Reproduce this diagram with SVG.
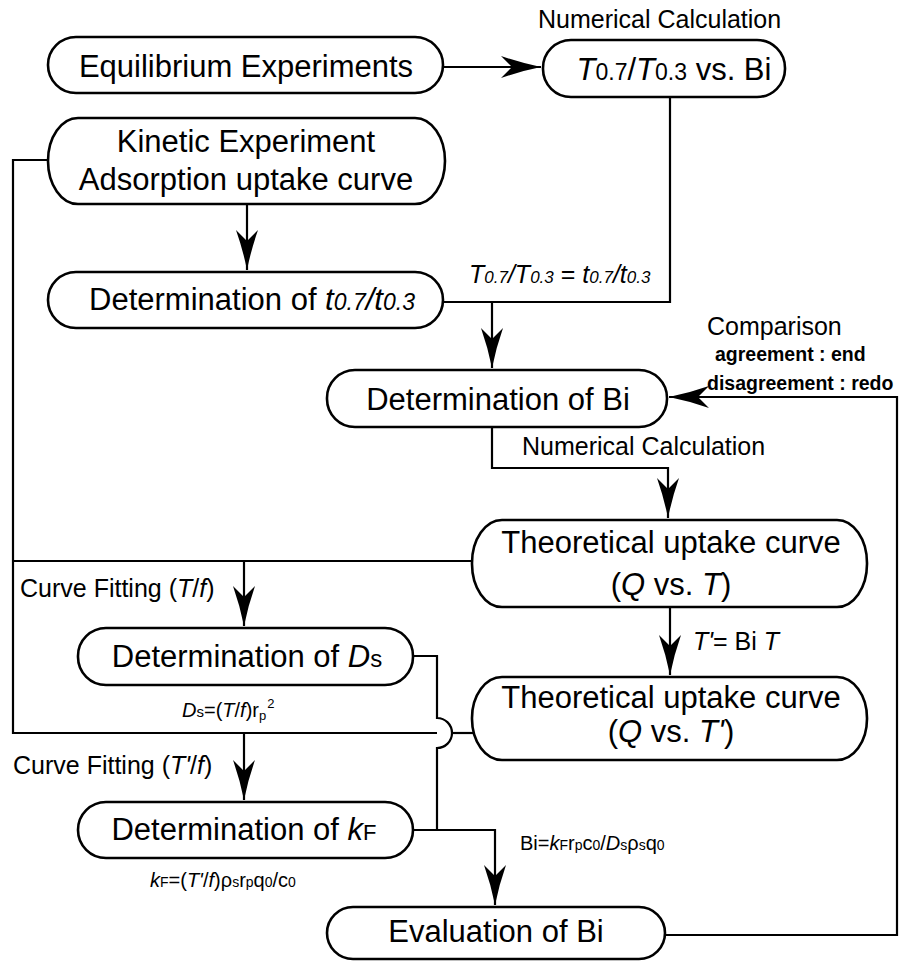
<svg xmlns="http://www.w3.org/2000/svg" width="909" height="962" viewBox="0 0 909 962">
<style>
  .box{fill:#fff;stroke:#000;stroke-width:2.6}
  .ln{fill:none;stroke:#000;stroke-width:2.2}
  .t{font-family:"Liberation Sans",Arial,sans-serif;font-size:31px;fill:#000;text-anchor:middle}
  .lb{font-family:"Liberation Sans",Arial,sans-serif;font-size:25px;fill:#000}
  .sm{font-family:"Liberation Sans",Arial,sans-serif;font-size:19.5px;font-weight:bold;fill:#000}
  .f{font-family:"Liberation Sans",Arial,sans-serif;font-size:20px;fill:#000}
  .i{font-style:italic}
</style>
<defs>
  <marker id="ah" markerUnits="userSpaceOnUse" viewBox="-42 -13 44 26" refX="0" refY="0" markerWidth="44" markerHeight="26" orient="auto">
    <path d="M0,0 Q-20,-4 -40,-11 L-29,0 L-40,11 Q-20,4 0,0 Z" fill="#000"/>
  </marker>
</defs>

<g id="connectors">
  <path class="ln" d="M443,67 L541,67" marker-end="url(#ah)"/>
  <path class="ln" d="M247,204 L247,270" marker-end="url(#ah)"/>
  <path class="ln" d="M670,97 L670,302 L443,302"/>
  <path class="ln" d="M492,302 L492,368" marker-end="url(#ah)"/>
  <path class="ln" d="M492,427 L492,468 L668,468 L668,518" marker-end="url(#ah)"/>
  <path class="ln" d="M670,607 L670,675" marker-end="url(#ah)"/>
  <path class="ln" d="M48,160 L13,160 L13,733 L437,733"/>
  <path class="ln" d="M452,733 L473,733"/>
  <path class="ln" d="M13,561 L473,561"/>
  <path class="ln" d="M244,561 L244,626" marker-end="url(#ah)"/>
  <path class="ln" d="M244,733 L244,800" marker-end="url(#ah)"/>
  <path class="ln" d="M413,656 L437,656 L437,718 A15,15 0 0 1 437,748 L437,830"/>
  <path class="ln" d="M413,830 L495,830 L495,905" marker-end="url(#ah)"/>
  <path class="ln" d="M665,935 L897,935 L897,397 L669,397" marker-end="url(#ah)"/>
</g>

<g id="n-equilibrium">
  <rect class="box" x="48" y="37" width="395" height="56" rx="28" ry="28"/>
  <text class="t" x="246" y="77">Equilibrium Experiments</text>
</g>
<g id="n-ratio-bi">
  <rect class="box" x="543" y="40" width="242" height="57" rx="28" ry="28"/>
  <text class="t" x="674" y="80"><tspan class="i">T</tspan><tspan font-size="23">0.7</tspan>/<tspan class="i">T</tspan><tspan font-size="23">0.3</tspan> vs. Bi</text>
</g>
<g id="n-kinetic">
  <rect class="box" x="48" y="118" width="397" height="86" rx="30" ry="43"/>
  <text class="t" x="246" y="152">Kinetic Experiment</text>
  <text class="t" x="246" y="190">Adsorption uptake curve</text>
</g>
<g id="n-det-t">
  <rect class="box" x="48" y="272" width="395" height="56" rx="28" ry="28"/>
  <text class="t" x="252" y="310">Determination of <tspan class="i">t</tspan><tspan font-size="23" class="i">0.7</tspan><tspan class="i">/t</tspan><tspan font-size="23" class="i">0.3</tspan></text>
</g>
<g id="n-det-bi">
  <rect class="box" x="327" y="370" width="340" height="57" rx="28" ry="28"/>
  <text class="t" x="498" y="410">Determination of Bi</text>
</g>
<g id="n-theo1">
  <rect class="box" x="472" y="520" width="395" height="87" rx="30" ry="43"/>
  <text class="t" x="671" y="553">Theoretical uptake curve</text>
  <text class="t" x="671" y="595" font-size="26">(<tspan class="i">Q</tspan> vs. <tspan class="i">T</tspan>)</text>
</g>
<g id="n-theo2">
  <rect class="box" x="472" y="677" width="395" height="83" rx="30" ry="41"/>
  <text class="t" x="671" y="708">Theoretical uptake curve</text>
  <text class="t" x="671" y="742" font-size="26">(<tspan class="i">Q</tspan> vs. <tspan class="i">T'</tspan>)</text>
</g>
<g id="n-det-ds">
  <rect class="box" x="78" y="628" width="335" height="57" rx="28" ry="28"/>
  <text class="t" x="247" y="667">Determination of <tspan class="i">D</tspan><tspan font-size="24">s</tspan></text>
</g>
<g id="n-det-kf">
  <rect class="box" x="78" y="802" width="335" height="56" rx="28" ry="28"/>
  <text class="t" x="244" y="840">Determination of <tspan class="i">k</tspan><tspan font-size="22">F</tspan></text>
</g>
<g id="n-eval">
  <rect class="box" x="327" y="907" width="338" height="52" rx="26" ry="26"/>
  <text class="t" x="496" y="942">Evaluation of Bi</text>
</g>

<g id="labels">
  <text class="lb" x="538" y="28">Numerical Calculation</text>
  <text class="lb" x="469" y="283" font-size="24"><tspan class="i">T</tspan><tspan font-size="17" class="i">0.7</tspan><tspan class="i">/T</tspan><tspan font-size="17" class="i">0.3</tspan> = <tspan class="i">t</tspan><tspan font-size="17" class="i">0.7</tspan><tspan class="i">/t</tspan><tspan font-size="17" class="i">0.3</tspan></text>
  <text class="lb" x="707" y="335">Comparison</text>
  <text class="sm" x="715" y="361">agreement : end</text>
  <text class="sm" x="707" y="390">disagreement : redo</text>
  <text class="lb" x="522" y="455">Numerical Calculation</text>
  <text class="lb" x="20" y="597">Curve Fitting (<tspan class="i">T</tspan>/<tspan class="i">f</tspan>)</text>
  <text class="lb" x="693" y="650" font-size="24"><tspan class="i">T'</tspan>= Bi <tspan class="i">T</tspan></text>
  <text class="f" x="182" y="717"><tspan class="i">D</tspan><tspan font-size="15">s</tspan>=(<tspan class="i">T</tspan>/<tspan class="i">f</tspan>)r<tspan font-size="13" dy="3">p</tspan><tspan font-size="13" dx="1" dy="-12">2</tspan></text>
  <text class="lb" x="13" y="774">Curve Fitting (<tspan class="i">T'</tspan>/<tspan class="i">f</tspan>)</text>
  <text class="f" x="520" y="850">Bi=<tspan class="i">k</tspan><tspan font-size="14">F</tspan>r<tspan font-size="14">p</tspan>c<tspan font-size="14">0</tspan>/<tspan class="i">D</tspan><tspan font-size="14">s</tspan>ρ<tspan font-size="14">s</tspan>q<tspan font-size="14">0</tspan></text>
  <text class="f" x="150" y="887"><tspan class="i">k</tspan><tspan font-size="14">F</tspan>=(<tspan class="i">T'</tspan>/<tspan class="i">f</tspan>)ρ<tspan font-size="14">s</tspan>r<tspan font-size="14">p</tspan>q<tspan font-size="14">0</tspan>/c<tspan font-size="14">0</tspan></text>
</g>
</svg>
